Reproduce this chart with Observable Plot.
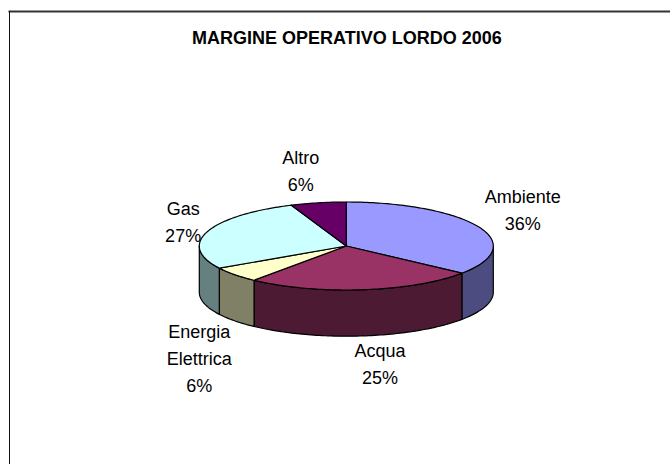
<!DOCTYPE html>
<html>
<head>
<meta charset="utf-8">
<script src="https://cdn.jsdelivr.net/npm/d3@7"></script>
<script src="https://cdn.jsdelivr.net/npm/@observablehq/plot@0.6"></script>
<style>html,body{margin:0;padding:0;background:#fff}svg{display:block}</style>
</head>
<body>
<div id="chart"></div>
<script>
const categories = ["Ambiente", "Acqua", "Energia Elettrica", "Gas", "Altro"];
const shares = [35.6, 25.2, 5.8, 27.3, 6.1];
const topColors = ["#9999FF", "#993366", "#FFFFCC", "#CCFFFF", "#660066"];
const sideColors = ["#4C4C80", "#4D1A33", "#808066", "#668080", "#330033"];
const labelText = ["Ambiente\n36%", "Acqua\n25%", "Energia\nElettrica\n6%", "Gas\n27%", "Altro\n6%"];
const labelX = [1.20, 0.23, -1.00, -1.11, -0.31];
const labelY = [0.875, -2.625, -2.51, 0.59, 1.76];
const chartTitle = "MARGINE OPERATIVO LORDO 2006";
const depth = 1.05;

const total = d3.sum(shares);
const cum = d3.cumsum(shares);
const slices = categories.map((name, i) => ({
  name,
  a0: ((cum[i] - shares[i]) / total) * 2 * Math.PI,
  a1: (cum[i] / total) * 2 * Math.PI
}));
const arc = (a0, a1) => {
  const n = Math.max(2, Math.ceil((a1 - a0) / 0.02));
  return d3.range(n + 1).map(k => a0 + (a1 - a0) * k / n);
};
const topPts = slices.flatMap(s => {
  const key = "top " + s.name;
  const pts = [{key, x: 0, y: 0}];
  for (const a of arc(s.a0, s.a1)) pts.push({key, x: Math.sin(a), y: Math.cos(a)});
  pts.push({key, x: 0, y: 0});
  return pts;
});
const sidePts = slices.flatMap(s => {
  const a0 = Math.max(s.a0, Math.PI / 2), a1 = Math.min(s.a1, 3 * Math.PI / 2);
  if (a1 <= a0) return [];
  const key = "side " + s.name;
  const as = arc(a0, a1);
  const pts = as.map(a => ({key, x: Math.sin(a), y: Math.cos(a)}));
  as.slice().reverse().forEach(a => pts.push({key, x: Math.sin(a), y: Math.cos(a) - depth}));
  pts.push(pts[0]);
  return pts;
});
const labels = labelText.map((text, i) => ({text, x: labelX[i], y: labelY[i]}));

const font = "'Liberation Sans', Arial, sans-serif";
const plot = Plot.plot({
  width: 670, height: 464,
  marginTop: 11, marginLeft: 9, marginRight: 0, marginBottom: 0,
  style: {background: "#fff", fontFamily: font},
  x: {domain: [-1, 1], range: [198.8, 492.8], axis: null},
  y: {domain: [-1, 1], range: [289.5, 201.5], axis: null},
  color: {
    type: "ordinal",
    domain: [...categories.map(c => "top " + c), ...categories.map(c => "side " + c)],
    range: [...topColors, ...sideColors]
  },
  marks: [
    Plot.frame({anchor: "top", stroke: "#333", strokeWidth: 2}),
    Plot.frame({anchor: "left", stroke: "#111", strokeWidth: 1}),
    Plot.line(sidePts, {x: "x", y: "y", z: "key", fill: "key", stroke: "#000", strokeWidth: 1.2, curve: "linear"}),
    Plot.line(topPts, {x: "x", y: "y", z: "key", fill: "key", stroke: "#000", strokeWidth: 1.2, curve: "linear"}),
    Plot.text(labels, {x: "x", y: "y", text: "text", fontSize: 18, lineHeight: 1.5, fill: "#000"}),
    Plot.text([chartTitle], {x: [0.004], y: [4.72], text: d => d, fontSize: 18, fontWeight: "bold", fill: "#000"})
  ]
});
document.getElementById("chart").appendChild(plot);
</script>
</body>
</html>
